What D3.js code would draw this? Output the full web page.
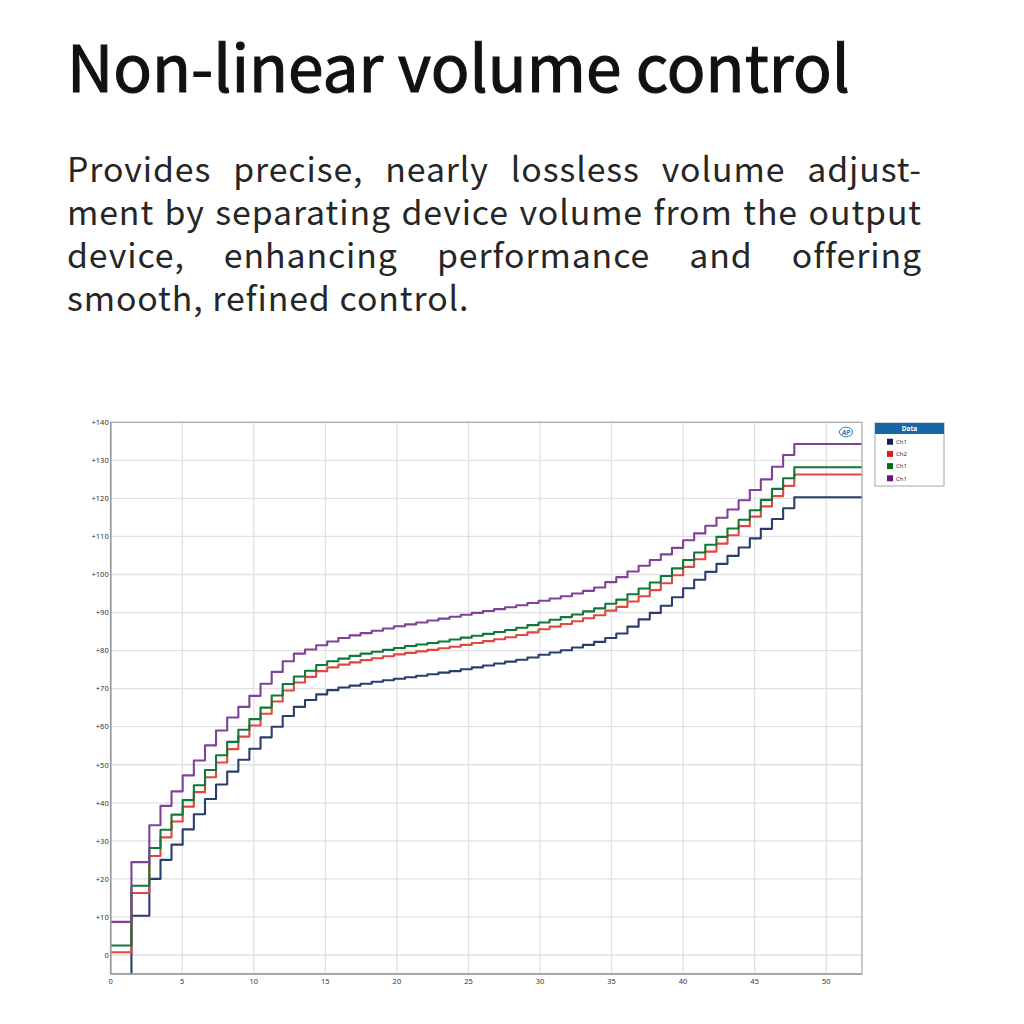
<!DOCTYPE html>
<html>
<head>
<meta charset="utf-8">
<script src="https://cdn.jsdelivr.net/npm/d3@7"></script>
<style>
  html, body { margin: 0; padding: 0; background: #ffffff; }
  body { width: 1024px; height: 1024px; overflow: hidden; }
  svg { display: block; }
</style>
</head>
<body>
<script>
// ---------------- DATA ----------------
const titleText = "Non-linear volume control";
const paragraphLines = [
  "Provides precise, nearly lossless volume adjust-",
  "ment by separating device volume from the output",
  "device, enhancing performance and offering",
  "smooth, refined control."
];

const xTicks = [0, 5, 10, 15, 20, 25, 30, 35, 40, 45, 50];
const yTicks = [0, 10, 20, 30, 40, 50, 60, 70, 80, 90, 100, 110, 120, 130, 140];
const yTickLabels = ["0", "+10", "+20", "+30", "+40", "+50", "+60", "+70", "+80", "+90", "+100", "+110", "+120", "+130", "+140"];

// times at which each level starts
const stepTimes = [0, 1.45, 2.70, 3.48, 4.25, 5.03, 5.81, 6.59, 7.36, 8.14, 8.92, 9.69, 10.47, 11.25, 12.02, 12.80,
  13.58, 14.36, 15.13, 15.91, 16.69, 17.46, 18.24, 19.02, 19.79, 20.57, 21.35, 22.13, 22.90, 23.68, 24.46, 25.23,
  26.01, 26.79, 27.56, 28.34, 29.12, 29.90, 30.67, 31.45, 32.23, 33.00, 33.78, 34.56, 35.33, 36.11, 36.89, 37.67,
  38.44, 39.22, 40.00, 40.77, 41.55, 42.33, 43.10, 43.88, 44.66, 45.43, 46.21, 46.99, 47.77];

const ch1Blue = [-5.3, 10.3, 20.0, 25.0, 29.0, 33.0, 37.0, 41.0, 44.8, 48.2, 51.3, 54.2, 57.2, 60.0, 62.8, 65.2,
  67.0, 68.5, 69.6, 70.3, 70.8, 71.3, 71.8, 72.2, 72.6, 73.0, 73.4, 73.8, 74.2, 74.6, 75.1, 75.6,
  76.1, 76.6, 77.1, 77.6, 78.2, 78.9, 79.5, 80.1, 80.8, 81.5, 82.3, 83.3, 84.5, 86.3, 88.2, 89.9,
  91.8, 94.0, 96.4, 98.6, 100.7, 102.8, 104.9, 107.1, 109.5, 112.0, 114.6, 117.4, 120.3];

const ch2Red = [0.7, 16.3, 26.0, 30.9, 35.1, 39.0, 42.8, 46.7, 50.6, 54.1, 57.4, 60.3, 63.4, 66.6, 69.5, 71.6,
  73.1, 74.6, 75.6, 76.3, 76.9, 77.5, 78.0, 78.5, 79.0, 79.4, 79.8, 80.2, 80.6, 81.0, 81.5, 82.0,
  82.5, 83.0, 83.5, 84.1, 84.8, 85.6, 86.3, 87.0, 87.7, 88.5, 89.3, 90.5, 91.5, 92.9, 94.3, 95.9,
  97.7, 99.8, 102.0, 104.0, 106.0, 108.1, 110.3, 112.7, 115.2, 117.9, 120.6, 123.3, 126.3];

const ch1Green = [2.5, 18.2, 28.1, 32.9, 36.9, 40.7, 44.6, 48.6, 52.5, 56.0, 59.2, 62.0, 65.0, 68.2, 71.2, 73.2,
  74.7, 76.2, 77.2, 77.9, 78.6, 79.2, 79.7, 80.2, 80.7, 81.2, 81.6, 82.0, 82.4, 82.9, 83.4, 83.9,
  84.4, 84.9, 85.4, 86.0, 86.7, 87.4, 88.1, 88.8, 89.5, 90.3, 91.1, 92.3, 93.4, 94.8, 96.3, 97.9,
  99.6, 101.6, 103.8, 105.8, 107.8, 109.9, 112.1, 114.4, 116.9, 119.6, 122.5, 125.3, 128.2];

const ch1Purple = [8.7, 24.4, 34.1, 39.2, 43.0, 47.2, 51.1, 55.1, 59.0, 62.4, 65.2, 68.1, 71.3, 74.4, 77.2, 79.2,
  80.3, 81.4, 82.4, 83.3, 84.0, 84.6, 85.2, 85.8, 86.4, 86.9, 87.4, 87.9, 88.4, 88.9, 89.4, 89.9,
  90.4, 90.9, 91.4, 91.9, 92.5, 93.1, 93.7, 94.3, 95.0, 95.7, 96.6, 98.0, 99.3, 100.8, 102.3, 103.8,
  105.3, 107.0, 109.0, 110.8, 112.8, 114.9, 117.1, 119.5, 122.2, 125.0, 128.3, 131.4, 134.3];

const legendLabels = ["Ch1", "Ch2", "Ch1", "Ch1"];
const legendColors = ["#0d1f5a", "#d8201f", "#0c6a20", "#6a137e"];
const lineColors = ["#283f6e", "#e2473d", "#13773a", "#7f4296"];
const seriesValues = [ch1Blue, ch2Red, ch1Green, ch1Purple];

// ---------------- LAYOUT ----------------
const W = 1024, H = 1024;
const svg = d3.select("body").append("svg").attr("width", W).attr("height", H);
const FONT = "'Noto Sans CJK SC', 'Noto Sans', sans-serif";

// Title
const title = svg.append("text")
  .attr("x", 67).attr("y", 92)
  .attr("font-family", FONT).attr("font-size", 64).attr("font-weight", 400)
  .attr("fill", "#111").attr("stroke", "#111").attr("stroke-width", 1.1)
  .text(titleText);
{
  const w = title.node().getComputedTextLength();
  title.attr("font-size", 64 * 783 / w);
}

// Paragraph (justified lines)
const pLeft = 67, pRight = 922, pBase = 182, pLead = 43;
let pSize = 32;
const pLetter = 0.9;
{
  const probe = svg.append("text").attr("font-family", FONT).attr("font-size", pSize)
    .attr("font-weight", 400).attr("letter-spacing", pLetter).text(paragraphLines[3]);
  const w = probe.node().getComputedTextLength();
  pSize = pSize * 403 / w;
  probe.remove();
}
paragraphLines.forEach((line, li) => {
  const words = line.split(" ");
  const g = svg.append("g");
  const nodes = words.map(wd => g.append("text")
    .attr("font-family", FONT).attr("font-size", pSize).attr("font-weight", 400)
    .attr("letter-spacing", pLetter).attr("fill", "#262626")
    .attr("y", pBase + li * pLead).text(wd));
  const widths = nodes.map(n => n.node().getComputedTextLength());
  const total = d3.sum(widths);
  const justify = li < paragraphLines.length - 1;
  const gap = justify ? (pRight - pLeft - total) / (words.length - 1) : pSize * 0.26;
  let xPos = pLeft;
  nodes.forEach((n, i) => { n.attr("x", xPos); xPos += widths[i] + gap; });
});

// ---------------- CHART ----------------
const px0 = 110.7, px1 = 862, py0 = 422.3, py1 = 974;
const x = d3.scaleLinear().domain([0, 52.5]).range([px0, px1]);
const y = d3.scaleLinear().domain([-5, 140]).range([py1, py0]);

const chart = svg.append("g");
chart.append("rect").attr("x", px0).attr("y", py0).attr("width", px1 - px0).attr("height", py1 - py0)
  .attr("fill", "#fff");

// grid
chart.append("g").selectAll("line").data(yTicks).join("line")
  .attr("x1", px0).attr("x2", px1)
  .attr("y1", d => y(d)).attr("y2", d => y(d))
  .attr("stroke", "#e1e1e1").attr("stroke-width", 1.3);
chart.append("g").selectAll("line").data(xTicks.filter(d => d > 0)).join("line")
  .attr("y1", py0).attr("y2", py1)
  .attr("x1", d => x(d)).attr("x2", d => x(d))
  .attr("stroke", "#e1e1e1").attr("stroke-width", 1.3);

// clip
svg.append("defs").append("clipPath").attr("id", "plotclip")
  .append("rect").attr("x", px0).attr("y", py0).attr("width", px1 - px0).attr("height", py1 - py0);

// lines
const lineGen = d3.line().x(d => x(d[0])).y(d => y(d[1])).curve(d3.curveStepAfter);
const linesG = chart.append("g").attr("clip-path", "url(#plotclip)");
seriesValues.forEach((vals, si) => {
  const pts = stepTimes.map((t, i) => [t, vals[i]]);
  pts.push([52.5, vals[vals.length - 1]]);
  linesG.append("path").datum(pts)
    .attr("d", lineGen).attr("fill", "none")
    .attr("stroke", lineColors[si]).attr("stroke-width", 2.1)
    .attr("stroke-linejoin", "round");
});

// frame
chart.append("rect").attr("x", px0).attr("y", py0).attr("width", px1 - px0).attr("height", py1 - py0)
  .attr("fill", "none").attr("stroke", "#a9a9a9").attr("stroke-width", 1.2);
chart.append("line").attr("x1", px0).attr("x2", px0).attr("y1", py0).attr("y2", py1)
  .attr("stroke", "#9a9a9a").attr("stroke-width", 1.6);
chart.append("line").attr("x1", px0).attr("x2", px1).attr("y1", py1).attr("y2", py1)
  .attr("stroke", "#9a9a9a").attr("stroke-width", 1.6);

// axis labels
const TICKFONT = "'Noto Sans', 'Open Sans', sans-serif";
chart.append("g").selectAll("text").data(yTicks).join("text")
  .attr("x", px0 - 2).attr("y", d => y(d) + 2.8)
  .attr("text-anchor", "end").attr("font-family", TICKFONT).attr("font-size", 7.5)
  .attr("fill", "#333").text((d, i) => yTickLabels[i]);
chart.append("g").selectAll("text").data(xTicks).join("text")
  .attr("x", d => x(d)).attr("y", 984)
  .attr("text-anchor", "middle").attr("font-family", TICKFONT).attr("font-size", 7.5)
  .attr("fill", "#333").text(d => String(d));

// AP logo
const logo = chart.append("g").attr("transform", "translate(846,432)");
logo.append("ellipse").attr("rx", 6.5).attr("ry", 4.8).attr("fill", "none")
  .attr("stroke", "#2d7bb8").attr("stroke-width", 1);
logo.append("text").attr("x", 0).attr("y", 2.5).attr("text-anchor", "middle")
  .attr("font-family", TICKFONT).attr("font-size", 7).attr("font-weight", 700)
  .attr("font-style", "italic").attr("fill", "#2d7bb8").text("AP");

// legend
const lg = svg.append("g").attr("transform", "translate(875,423)");
lg.append("rect").attr("width", 69).attr("height", 63).attr("fill", "#fff")
  .attr("stroke", "#a8a8a8").attr("stroke-width", 1);
lg.append("rect").attr("width", 69).attr("height", 11).attr("fill", "#1766a8");
lg.append("text").attr("x", 34.5).attr("y", 8.3).attr("text-anchor", "middle")
  .attr("font-family", TICKFONT).attr("font-size", 6.5).attr("font-weight", 700)
  .attr("fill", "#fff").text("Data");
const entry = lg.selectAll("g.entry").data(legendLabels).join("g")
  .attr("class", "entry")
  .attr("transform", (d, i) => `translate(12,${18.7 + i * 12.2})`);
entry.append("rect").attr("x", 0).attr("y", -3).attr("width", 6).attr("height", 6)
  .attr("fill", (d, i) => legendColors[i]);
entry.append("text").attr("x", 9).attr("y", 2.3)
  .attr("font-family", TICKFONT).attr("font-size", 6).attr("fill", "#333").text(d => d);
</script>
</body>
</html>
